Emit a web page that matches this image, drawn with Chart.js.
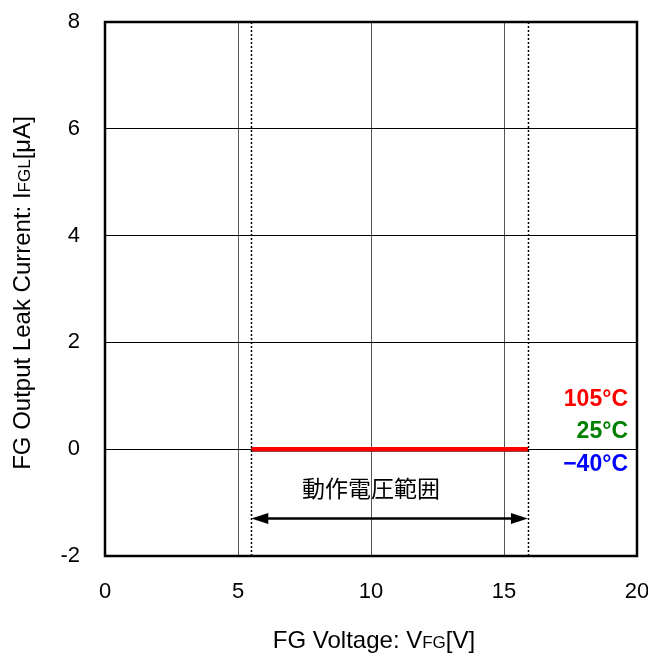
<!DOCTYPE html>
<html>
<head>
<meta charset="utf-8">
<script src="https://cdn.jsdelivr.net/npm/chart.js@4.4.0/dist/chart.umd.min.js"></script>
<style>
  body { margin: 0; background: #fff; }
  #wrap { width: 648px; height: 655px; }
</style>
</head>
<body>
<div id="wrap"><canvas id="leakChart" width="648" height="655"></canvas></div>
<script>
// 数据
const voltages = [5.5, 15.9];
const leak105 = [0, 0];
const leak25 = [0, 0];
const leakM40 = [0, 0];
const xTicks = [0, 5, 10, 15, 20];
const yTicks = [-2, 0, 2, 4, 6, 8];
const rangeMarks = [5.5, 15.9];   // 動作電圧範囲
const arrowY = -1.3;
const rangeTextY = -0.73;
const tempLabels = ['105°C', '25°C', '\u221240°C'];
const tempColors = ['#ff0000', '#008000', '#0000ff'];

const FONT = '"Liberation Sans", Arial, sans-serif';

// 注释、箭头、轴标题
const overlay = {
  id: 'overlay',
  afterDatasetsDraw(chart) {
    const { ctx, chartArea, scales: { x, y } } = chart;
    ctx.save();
    // 点线
    ctx.strokeStyle = '#000';
    ctx.lineWidth = 1.5;
    ctx.setLineDash([2, 2]);
    rangeMarks.forEach(v => {
      const px = Math.round(x.getPixelForValue(v)) + 0.5;
      ctx.beginPath();
      ctx.moveTo(px, chartArea.top);
      ctx.lineTo(px, chartArea.bottom);
      ctx.stroke();
    });
    ctx.setLineDash([]);

    // 箭头
    const ay = y.getPixelForValue(arrowY);
    const x1 = x.getPixelForValue(rangeMarks[0]);
    const x2 = x.getPixelForValue(rangeMarks[1]);
    ctx.lineWidth = 2.5;
    ctx.beginPath();
    ctx.moveTo(x1 + 10, ay);
    ctx.lineTo(x2 - 10, ay);
    ctx.stroke();
    ctx.fillStyle = '#000';
    [[x1, 1], [x2, -1]].forEach(([px, d]) => {
      ctx.beginPath();
      ctx.moveTo(px, ay);
      ctx.lineTo(px + d * 17, ay - 5.5);
      ctx.lineTo(px + d * 17, ay + 5.5);
      ctx.closePath();
      ctx.fill();
    });
    ctx.font = '23px "Noto Sans CJK JP", ' + FONT;
    ctx.textAlign = 'center';
    ctx.textBaseline = 'middle';
    ctx.fillText('動作電圧範囲', x.getPixelForValue(10), y.getPixelForValue(rangeTextY));

    // 温度
    ctx.font = 'bold 23px ' + FONT;
    ctx.textAlign = 'right';
    const tY = [400, 432, 465];
    tempLabels.forEach((t, i) => {
      ctx.fillStyle = tempColors[i];
      ctx.fillText(t, chartArea.right - 9, tY[i]);
    });

    // 轴标题
    ctx.fillStyle = '#000';
    ctx.textBaseline = 'alphabetic';
    const drawParts = (parts, cx, cy) => {
      let w = 0;
      parts.forEach(p => { ctx.font = p[1] + 'px ' + FONT; w += ctx.measureText(p[0]).width; });
      let cur = cx - w / 2;
      ctx.textAlign = 'left';
      parts.forEach(p => {
        ctx.font = p[1] + 'px ' + FONT;
        ctx.fillText(p[0], cur, cy);
        cur += ctx.measureText(p[0]).width;
      });
    };
    drawParts([['FG Voltage: V', 24], ['FG', 17], ['[V]', 24]], 374, 648);
    ctx.translate(30, 293);
    ctx.rotate(-Math.PI / 2);
    drawParts([['FG Output Leak Current: I', 24], ['FGL', 17], ['[\u03bcA]', 24]], 0, 0);
    ctx.restore();

    // 边框
    ctx.save();
    ctx.strokeStyle = '#000';
    ctx.lineWidth = 2.5;
    ctx.strokeRect(chartArea.left, chartArea.top, chartArea.right - chartArea.left, chartArea.bottom - chartArea.top);
    ctx.restore();
  }
};

const mk = (label, data, color) => ({
  label,
  data: voltages.map((v, i) => ({ x: v, y: data[i] })),
  borderColor: color,
  borderWidth: 4.5,
  pointRadius: 0,
  fill: false
});

new Chart(document.getElementById('leakChart'), {
  type: 'line',
  data: {
    // 先画的在上层：红线在最上
    datasets: [
      mk('105°C', leak105, '#ff0000'),
      mk('25°C', leak25, '#008000'),
      mk('-40°C', leakM40, '#0000ff')
    ]
  },
  options: {
    responsive: false,
    animation: false,
    layout: { padding: { top: 22, right: 11, left: 0, bottom: 0 } },
    plugins: { legend: { display: false }, tooltip: { enabled: false } },
    scales: {
      x: {
        type: 'linear',
        min: 0, max: 20,
        afterBuildTicks: s => { s.ticks = xTicks.map(v => ({ value: v })); },
        afterFit: s => { s.height = 99; s.paddingLeft = 0; s.paddingRight = 0; },
        grid: {
          color: ctx => (ctx.tick && (ctx.tick.value === 0 || ctx.tick.value === 20)) ? 'rgba(0,0,0,0)' : '#555',
          lineWidth: 1,
          drawTicks: false
        },
        border: { display: false },
        ticks: { color: '#000', font: { family: FONT, size: 22 }, padding: 23, maxRotation: 0 }
      },
      y: {
        min: -2, max: 8,
        afterBuildTicks: s => { s.ticks = yTicks.map(v => ({ value: v })); },
        afterFit: s => { s.width = 105; s.paddingTop = 0; s.paddingBottom = 0; },
        grid: {
          color: ctx => (ctx.tick && (ctx.tick.value === -2 || ctx.tick.value === 8)) ? 'rgba(0,0,0,0)' : '#000',
          lineWidth: 1,
          drawTicks: false
        },
        border: { display: false },
        ticks: { color: '#000', font: { family: FONT, size: 22 }, padding: 25 }
      }
    }
  },
  plugins: [overlay]
});
</script>
</body>
</html>
